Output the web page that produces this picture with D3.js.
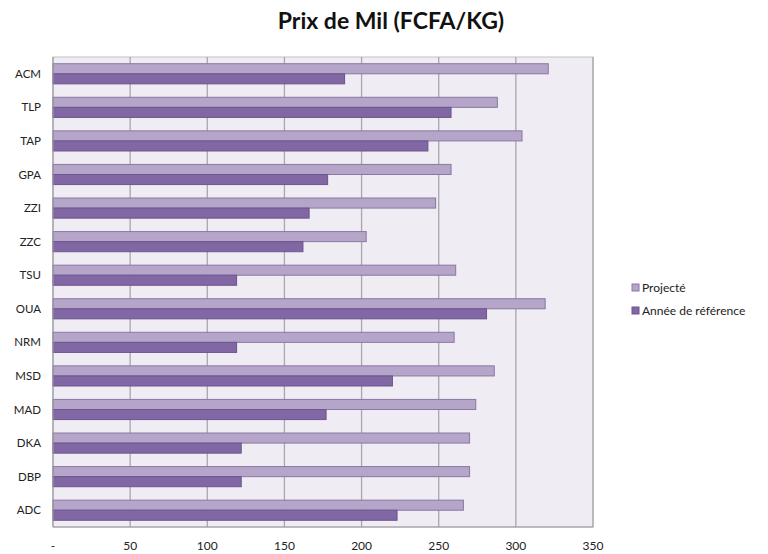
<!DOCTYPE html>
<html>
  <head>
    <script src="https://d3js.org/d3.v7.min.js"></script>
    <style>
      body { margin: 0; background: #fff; }
      text { font-family: Lato, "Open Sans", sans-serif; }
    </style>
  </head>
  <body>
    <svg width="768" height="554"></svg>
    <script>
      var categories = ['ACM', 'TLP', 'TAP', 'GPA', 'ZZI', 'ZZC', 'TSU',
                        'OUA', 'NRM', 'MSD', 'MAD', 'DKA', 'DBP', 'ADC'];
      var projected = [321, 288, 304, 258, 248, 203, 261, 319, 260, 286, 274, 270, 270, 266];
      var reference = [189, 258, 243, 178, 166, 162, 119, 281, 119, 220, 177, 122, 122, 223];
      var seriesNames = ['Projecté', 'Année de référence'];
      var tickValues = [0, 50, 100, 150, 200, 250, 300, 350];

      var svg = d3.select('svg');
      // note: "top" is reserved on window, so use plot* names
      var plotL = 53, plotR = 593, plotT = 57, plotB = 527;
      var colors = {fill: ['#b4a5c9', '#8167a3'], stroke: ['#8a78a3', '#6c5590']};

      var x = d3.scaleLinear().domain([0, 350]).range([plotL, plotR]);
      var y = d3.scaleBand().domain(categories).range([plotT, plotB]).paddingInner(0.4).paddingOuter(0.2);
      var sub = d3.scaleBand().domain([0, 1]).range([0, y.bandwidth()]);

      // plot background
      svg.append('rect')
        .attr('x', plotL).attr('y', plotT)
        .attr('width', plotR - plotL).attr('height', plotB - plotT)
        .attr('fill', '#efecf3').attr('stroke', '#c4c0c8');

      // gridlines
      svg.selectAll('.grid')
        .data(tickValues.slice(1))
        .enter().append('line')
        .attr('x1', d => x(d)).attr('x2', d => x(d))
        .attr('y1', plotT).attr('y2', plotB)
        .attr('stroke', '#a9a6ad').attr('stroke-width', 1.3);

      // bars
      [projected, reference].forEach(function (vals, s) {
        svg.selectAll('.bar' + s)
          .data(vals)
          .enter().append('rect')
          .attr('x', plotL)
          .attr('y', (d, i) => y(categories[i]) + sub(s))
          .attr('width', d => x(d) - plotL)
          .attr('height', sub.bandwidth())
          .attr('fill', colors.fill[s])
          .attr('stroke', colors.stroke[s])
          .attr('stroke-width', 1);
      });

      // axis lines
      svg.append('line')
        .attr('x1', plotL).attr('x2', plotL).attr('y1', plotT).attr('y2', plotB)
        .attr('stroke', '#9a97a0').attr('stroke-width', 1.2);
      svg.append('line')
        .attr('x1', plotL).attr('x2', plotR).attr('y1', plotB).attr('y2', plotB)
        .attr('stroke', '#9a97a0').attr('stroke-width', 1.2);

      // category labels
      svg.selectAll('.cat')
        .data(categories)
        .enter().append('text')
        .attr('x', plotL - 12)
        .attr('y', d => y(d) + y.bandwidth() / 2 + 4)
        .attr('text-anchor', 'end')
        .attr('font-size', 11.5)
        .attr('fill', '#222')
        .text(d => d);

      // x tick labels
      svg.selectAll('.tick')
        .data(tickValues)
        .enter().append('text')
        .attr('x', d => x(d))
        .attr('y', 550)
        .attr('text-anchor', 'middle')
        .attr('font-size', 12)
        .attr('fill', '#222')
        .text(d => d === 0 ? '-' : d);

      // title
      svg.append('text')
        .attr('x', 391).attr('y', 29)
        .attr('text-anchor', 'middle')
        .attr('font-size', 23)
        .attr('font-weight', 'bold')
        .attr('fill', '#111')
        .text('Prix de Mil (FCFA/KG)');

      // legend
      var legend = svg.selectAll('.legend')
        .data(seriesNames)
        .enter().append('g')
        .attr('transform', (d, i) => 'translate(632,' + (284 + i * 23) + ')');
      legend.append('rect')
        .attr('width', 7).attr('height', 7)
        .attr('fill', (d, i) => colors.fill[i])
        .attr('stroke', (d, i) => colors.stroke[i]);
      legend.append('text')
        .attr('x', 10).attr('y', 8)
        .attr('font-size', 12)
        .attr('fill', '#222')
        .text(d => d);
    </script>
  </body>
</html>
